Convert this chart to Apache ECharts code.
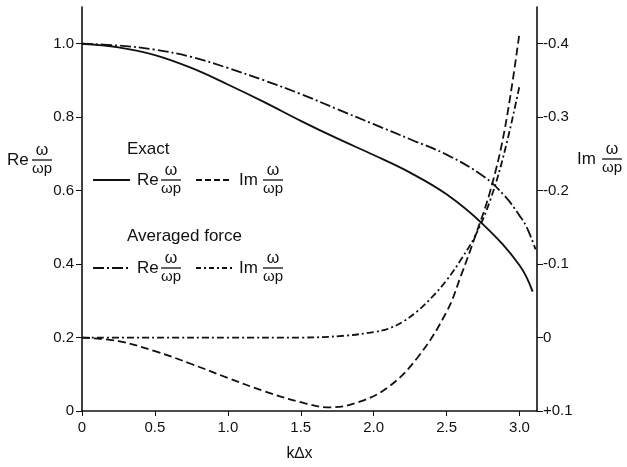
<!DOCTYPE html>
<html>
<head>
<meta charset="utf-8">
<script src="https://cdn.jsdelivr.net/npm/echarts@6/dist/echarts.min.js"></script>
<style>
html,body{margin:0;padding:0;background:#fff;}
#chart{width:627px;height:467px;}
</style>
</head>
<body>
<div id="chart"></div>
<script>
// k*dx sample points and curves
var exactReX  = [0, 0.25, 0.5, 0.75, 1.0, 1.25, 1.5, 1.75, 2.0, 2.25, 2.5, 2.75, 3.0, 3.09];
var exactReY  = [1.0, 0.99, 0.969, 0.934, 0.889, 0.841, 0.79, 0.742, 0.697, 0.649, 0.59, 0.508, 0.397, 0.325];

var exactImX  = [0, 0.25, 0.5, 0.75, 1.0, 1.25, 1.5, 1.7, 1.9, 2.1, 2.3, 2.5, 2.6, 2.7, 2.8, 2.9, 3.0];
var exactImY  = [0, 0.005, 0.0185, 0.036, 0.055, 0.073, 0.088, 0.095, 0.0875, 0.0675, 0.0275, -0.035, -0.085, -0.14, -0.2, -0.285, -0.415];

var avgReX    = [0, 0.25, 0.5, 0.75, 1.0, 1.25, 1.5, 1.75, 2.0, 2.25, 2.5, 2.75, 2.9, 3.0, 3.05, 3.11];
var avgReY    = [1.0, 0.995, 0.984, 0.964, 0.934, 0.9, 0.863, 0.822, 0.781, 0.74, 0.698, 0.64, 0.585, 0.532, 0.5, 0.44];

var avgImX    = [0, 0.5, 1.0, 1.5, 1.8, 2.0, 2.1, 2.2, 2.3, 2.4, 2.5, 2.6, 2.7, 2.8, 2.9, 3.0];
var avgImY    = [0, 0, 0, 0, -0.0025, -0.0075, -0.012, -0.0215, -0.036, -0.055, -0.078, -0.1065, -0.14, -0.1875, -0.255, -0.3425];

var xTicks    = [0, 0.5, 1.0, 1.5, 2.0, 2.5, 3.0];
var reTicks   = [0, 0.2, 0.4, 0.6, 0.8, 1.0];
var imTicks   = [-0.4, -0.3, -0.2, -0.1, 0, 0.1];

function pairs(xs, ys) {
    var out = [];
    for (var i = 0; i < xs.length; i++) out.push([xs[i], ys[i]]);
    return out;
}

var FONT = 'Liberation Sans';
var INK = '#111';

// "Re ω/ωp" style label built from graphic pieces
function frac(x, y, prefix, pw) {
    return {
        type: 'group', x: x, y: y, silent: true,
        children: [
            {type: 'text', x: 0, y: 0, style: {text: prefix, fill: INK, font: '17px ' + FONT, verticalAlign: 'middle'}},
            {type: 'text', x: pw + 10, y: -1, style: {text: 'ω', fill: INK, font: '16px ' + FONT, align: 'center', verticalAlign: 'bottom'}},
            {type: 'line', shape: {x1: pw, y1: 0, x2: pw + 20, y2: 0}, style: {stroke: INK, lineWidth: 1.3}},
            {type: 'text', x: pw + 10, y: 1, style: {text: 'ωp', fill: INK, font: '15px ' + FONT, align: 'center', verticalAlign: 'top'}}
        ]
    };
}

function sample(x1, x2, y, dash, w) {
    return {type: 'line', silent: true, shape: {x1: x1, y1: y, x2: x2, y2: y},
        style: {stroke: INK, lineWidth: w || 1.8, lineDash: dash}};
}

var chart = echarts.init(document.getElementById('chart'));

var axisLineStyle = {lineStyle: {color: INK, width: 1.6}};
var labelStyle = {color: INK, fontFamily: FONT, fontSize: 15};

var option = {
    animation: false,
    backgroundColor: '#fff',
    grid: {left: 82, right: 90, top: 7, bottom: 52},
    xAxis: {
        type: 'value', min: 0, max: 3.12,
        name: 'k∆x', nameLocation: 'middle', nameGap: 35,
        nameTextStyle: {color: INK, fontFamily: FONT, fontSize: 16, padding: [0, 20, 0, 0]},
        axisLine: axisLineStyle,
        axisTick: {show: true, length: 5, lineStyle: {color: INK}, customValues: xTicks},
        axisLabel: Object.assign({margin: 9, customValues: xTicks, formatter: function (v) {
            return v === 0 ? '0' : v.toFixed(1);
        }}, labelStyle),
        splitLine: {show: false}
    },
    yAxis: [{
        type: 'value', min: 0, max: 1.1,
        axisLine: {show: true, lineStyle: {color: INK, width: 1.6}},
        axisTick: {show: true, length: 6, lineStyle: {color: INK}, customValues: reTicks},
        axisLabel: Object.assign({margin: 8, customValues: reTicks, formatter: function (v) {
            return v === 0 ? '0' : v.toFixed(1);
        }}, labelStyle),
        splitLine: {show: false}
    }, {
        type: 'value', min: -0.45, max: 0.1, inverse: true, position: 'right',
        axisLine: {show: true, onZero: false, lineStyle: {color: INK, width: 1.6}},
        axisTick: {show: true, length: 6, lineStyle: {color: INK}, customValues: imTicks},
        axisLabel: Object.assign({margin: 6, customValues: imTicks, formatter: function (v) {
            if (Math.abs(v) < 1e-9) return '0';
            return (v > 0 ? '+' : '') + v.toFixed(1);
        }}, labelStyle),
        splitLine: {show: false}
    }],
    series: [{
        name: 'Exact Re', type: 'line', yAxisIndex: 0, smooth: 0.4, showSymbol: false,
        lineStyle: {color: INK, width: 1.9},
        data: pairs(exactReX, exactReY)
    }, {
        name: 'Exact Im', type: 'line', yAxisIndex: 1, smooth: 0.4, showSymbol: false,
        lineStyle: {color: INK, width: 1.8, type: [8, 4]},
        data: pairs(exactImX, exactImY)
    }, {
        name: 'Averaged Re', type: 'line', yAxisIndex: 0, smooth: 0.4, showSymbol: false,
        lineStyle: {color: INK, width: 1.8, type: [11, 3, 2, 3]},
        data: pairs(avgReX, avgReY)
    }, {
        name: 'Averaged Im', type: 'line', yAxisIndex: 1, smooth: 0.4, showSymbol: false,
        lineStyle: {color: INK, width: 1.8, type: [7, 3, 2, 3]},
        data: pairs(avgImX, avgImY)
    }],
    graphic: [
        frac(7, 160, 'Re', 25),
        frac(577, 159, 'Im', 25),
        {type: 'text', x: 127, y: 149, silent: true,
            style: {text: 'Exact', fill: INK, font: '17px ' + FONT, verticalAlign: 'middle'}},
        sample(93, 130, 180, null, 1.9),
        frac(137, 180, 'Re', 24),
        sample(196, 230, 180, [6, 3]),
        frac(239, 180, 'Im', 24),
        {type: 'text', x: 127, y: 236, silent: true,
            style: {text: 'Averaged force', fill: INK, font: '17px ' + FONT, verticalAlign: 'middle'}},
        sample(93, 130, 268, [11, 3, 2, 3]),
        frac(137, 268, 'Re', 24),
        sample(196, 233, 268, [5, 3, 2, 3]),
        frac(239, 268, 'Im', 24)
    ]
};

chart.setOption(option);

window.addEventListener('resize', function () {
    chart.resize();
});
</script>
</body>
</html>
